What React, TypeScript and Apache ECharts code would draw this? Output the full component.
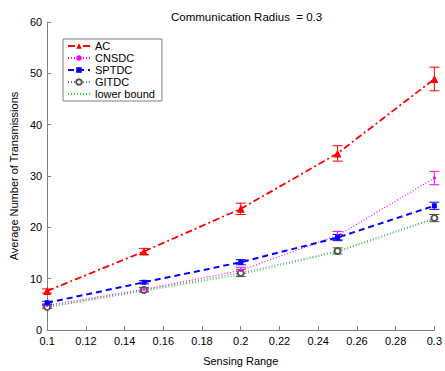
import React, { useEffect, useRef } from "react";
import * as echarts from "echarts";

const xs = [0.1, 0.15, 0.2, 0.25, 0.3];
const ac = [7.6, 15.3, 23.6, 34.4, 48.9];
const acErr = [0.4, 0.6, 1.1, 1.5, 2.3];
const cnsdc = [4.8, 7.9, 11.6, 18.4, 29.6];
const cnsdcErr = [0.3, 0.4, 0.6, 0.8, 1.3];
const sptdc = [5.3, 9.3, 13.2, 18.0, 24.2];
const sptdcErr = [0.3, 0.3, 0.5, 0.6, 0.7];
const gitdc = [4.5, 7.8, 11.1, 15.4, 21.8];
const gitdcErr = [0.3, 0.4, 0.7, 0.6, 0.7];
const lowerBound = [4.4, 7.6, 10.8, 15.2, 21.6];

const FONT = "Liberation Sans, Arial, sans-serif";

function pairs(vals: number[]) {
  return xs.map((x, i) => [x, vals[i]]);
}

function errSeries(vals: number[], errs: number[], color: string) {
  return {
    type: "custom",
    silent: true,
    z: 1,
    data: xs.map((x, i) => [x, vals[i] - errs[i], vals[i] + errs[i]]),
    renderItem: (params: any, api: any) => {
      const lo = api.coord([api.value(0), api.value(1)]);
      const hi = api.coord([api.value(0), api.value(2)]);
      const w = 5;
      const style = { stroke: color, lineWidth: 1 };
      return {
        type: "group",
        children: [
          { type: "line", shape: { x1: lo[0], y1: lo[1], x2: hi[0], y2: hi[1] }, style },
          { type: "line", shape: { x1: lo[0] - w, y1: lo[1], x2: lo[0] + w, y2: lo[1] }, style },
          { type: "line", shape: { x1: hi[0] - w, y1: hi[1], x2: hi[0] + w, y2: hi[1] }, style },
        ],
      };
    },
  };
}

export default function App() {
  const ref = useRef<HTMLDivElement>(null);
  useEffect(() => {
    const chart = echarts.init(ref.current!, null, { renderer: "svg" });
    const axisColor = "#7f7f7f";
    chart.setOption({
      animation: false,
      textStyle: { fontFamily: FONT },
      title: {
        text: "Communication Radius  = 0.3",
        left: 166,
        top: 6,
        textStyle: { fontSize: 11.5, fontWeight: "normal", color: "#000", fontFamily: FONT },
      },
      grid: { left: 40, right: 8, top: 22, bottom: 32 },
      legend: {
        orient: "vertical",
        left: 63,
        top: 39,
        padding: [1, 7, 1, 4],
        itemGap: 0,
        itemWidth: 22,
        itemHeight: 7,
        borderColor: "#808080",
        borderWidth: 1,
        backgroundColor: "#fff",
        textStyle: { fontSize: 11, color: "#000", fontFamily: FONT, lineHeight: 12 },
        data: [
          "AC",
          "CNSDC",
          "SPTDC",
          "GITDC",
          { name: "lower bound", itemStyle: { opacity: 0 } },
        ],
      },
      xAxis: {
        type: "value",
        min: 0.1,
        max: 0.3,
        interval: 0.02,
        name: "Sensing Range",
        nameLocation: "middle",
        nameGap: 25,
        nameTextStyle: { fontSize: 11, color: "#000", fontFamily: FONT },
        axisLine: { lineStyle: { color: axisColor } },
        axisTick: { inside: true, length: 4, lineStyle: { color: axisColor } },
        axisLabel: {
          fontSize: 11,
          color: "#000",
          margin: 5,
          formatter: (v: number) => String(+v.toFixed(2)),
        },
        splitLine: { show: false },
      },
      yAxis: {
        type: "value",
        min: 0,
        max: 60,
        interval: 10,
        name: "Average Number of Transmissions",
        nameLocation: "middle",
        nameGap: 24,
        nameTextStyle: { fontSize: 11, color: "#000", fontFamily: FONT },
        axisLine: { show: true, lineStyle: { color: axisColor } },
        axisTick: { show: true, inside: true, length: 4, lineStyle: { color: axisColor } },
        axisLabel: { fontSize: 11, color: "#000", margin: 5 },
        splitLine: { show: false },
      },
      series: [
        errSeries(ac, acErr, "#ff0000"),
        errSeries(cnsdc, cnsdcErr, "#ff00ff"),
        errSeries(sptdc, sptdcErr, "#0000ff"),
        errSeries(gitdc, gitdcErr, "#555555"),
        {
          name: "lower bound",
          type: "line",
          data: pairs(lowerBound),
          symbol: "none",
          z: 2,
          lineStyle: { color: "#22dd22", width: 1.2, type: [1, 2] },
          itemStyle: { color: "#22dd22" },
        },
        {
          name: "GITDC",
          type: "line",
          data: pairs(gitdc),
          symbol: "emptyCircle",
          symbolSize: 6,
          z: 3,
          lineStyle: { color: "#777777", width: 1, type: [1, 2] },
          itemStyle: { color: "#555555", borderColor: "#555555", borderWidth: 1 },
        },
        {
          name: "CNSDC",
          type: "line",
          data: pairs(cnsdc),
          symbol: "circle",
          symbolSize: 3,
          z: 3,
          lineStyle: { color: "#ff00ff", width: 1.2, type: [1, 2] },
          itemStyle: { color: "#ff00ff" },
        },
        {
          name: "SPTDC",
          type: "line",
          data: pairs(sptdc),
          symbol: "rect",
          symbolSize: 5,
          z: 4,
          lineStyle: { color: "#0000ff", width: 2, type: [6, 4] },
          itemStyle: { color: "#0000ff" },
        },
        {
          name: "AC",
          type: "line",
          data: pairs(ac),
          symbol: "triangle",
          symbolSize: 8,
          z: 5,
          lineStyle: { color: "#ff0000", width: 1.8, type: [7, 3, 2, 3] },
          itemStyle: { color: "#ff0000" },
        },
      ],
    });
    return () => chart.dispose();
  }, []);
  return (
    <div
      ref={ref}
      style={{ position: "fixed", left: 0, top: 0, width: 445, height: 371, background: "#fff" }}
    />
  );
}
